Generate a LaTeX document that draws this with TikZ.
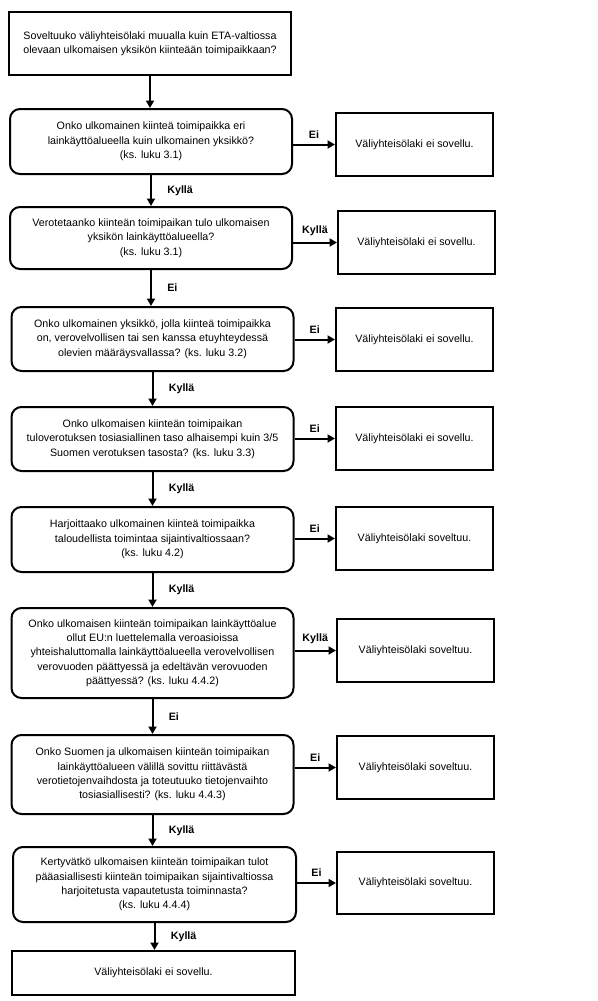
\documentclass[tikz,border=0pt]{standalone}
\usepackage{fontspec}
\setmainfont{Liberation Sans}
\usetikzlibrary{arrows.meta}

\begin{document}
\begin{tikzpicture}[x=1pt,y=-1pt,
        teksti/.style={font=\fontsize{10.7}{14.3}\selectfont, align=center},
        kysymys/.style={teksti, draw, line width=2pt, rounded corners=10pt, minimum width=282pt, inner sep=2pt},
        tulos/.style={teksti, draw, line width=2pt, minimum width=157pt, minimum height=63pt},
        nuoli/.style={line width=2pt, -{Triangle[length=7.5pt,width=8pt]}},
        vast/.style={font=\fontsize{10.7}{13}\selectfont\bfseries}]
        \useasboundingbox (0,0) rectangle (597,1001);

        \node[teksti, draw, line width=2pt, minimum width=282pt, minimum height=63pt] (q1) at (150,43.5)
            {Soveltuuko väliyhteisölaki muualla kuin ETA-valtiossa\\olevaan ulkomaisen yksikön kiinteään toimipaikkaan?};

        \node[kysymys, minimum height=65pt] (q2) at (151,141.5)
            {Onko ulkomainen kiinteä toimipaikka eri\\lainkäyttöalueella kuin ulkomainen yksikkö?\\(ks. luku 3.1)};
        \node[tulos] (a2) at (414.5,144.5) {Väliyhteisölaki ei sovellu.};

        \node[kysymys, minimum height=62pt] (q3) at (151,238)
            {Verotetaanko kiinteän toimipaikan tulo ulkomaisen\\yksikön lainkäyttöalueella?\\(ks. luku 3.1)};
        \node[tulos] (a3) at (416.5,242.5) {Väliyhteisölaki ei sovellu.};

        \node[kysymys, minimum height=64pt] (q4) at (152.5,339)
            {Onko ulkomainen yksikkö, jolla kiinteä toimipaikka\\on, verovelvollisen tai sen kanssa etuyhteydessä\\olevien määräysvallassa? (ks. luku 3.2)};
        \node[tulos] (a4) at (414.5,339.5) {Väliyhteisölaki ei sovellu.};

        \node[kysymys, minimum height=64pt] (q5) at (152.5,439)
            {Onko ulkomaisen kiinteän toimipaikan\\tuloverotuksen tosiasiallinen taso alhaisempi kuin 3/5\\Suomen verotuksen tasosta? (ks. luku 3.3)};
        \node[tulos] (a5) at (414.5,438.5) {Väliyhteisölaki ei sovellu.};

        \node[kysymys, minimum height=65pt] (q6) at (152.5,539.5)
            {Harjoittaako ulkomainen kiinteä toimipaikka\\taloudellista toimintaa sijaintivaltiossaan?\\(ks. luku 4.2)};
        \node[tulos] (a6) at (414.5,538.5) {Väliyhteisölaki soveltuu.};

        \node[kysymys, minimum height=90pt] (q7) at (152.5,653)
            {Onko ulkomaisen kiinteän toimipaikan lainkäyttöalue\\ollut EU:n luettelemalla veroasioissa\\yhteishaluttomalla lainkäyttöalueella verovelvollisen\\verovuoden päättyessä ja edeltävän verovuoden\\päättyessä? (ks. luku 4.4.2)};
        \node[tulos] (a7) at (415.5,650.5) {Väliyhteisölaki soveltuu.};

        \node[kysymys, minimum height=79pt] (q8) at (152.5,774.5)
            {Onko Suomen ja ulkomaisen kiinteän toimipaikan\\lainkäyttöalueen välillä sovittu riittävästä\\verotietojenvaihdosta ja toteutuuko tietojenvaihto\\tosiasiallisesti? (ks. luku 4.4.3)};
        \node[tulos] (a8) at (415.5,767.5) {Väliyhteisölaki soveltuu.};

        \node[kysymys, minimum width=283pt, minimum height=75pt] (q9) at (154.5,884.5)
            {Kertyvätkö ulkomaisen kiinteän toimipaikan tulot\\pääasiallisesti kiinteän toimipaikan sijaintivaltiossa\\harjoitetusta vapautetusta toiminnasta?\\(ks. luku 4.4.4)};
        \node[tulos, minimum height=62pt] (a9) at (415.5,883) {Väliyhteisölaki soveltuu.};

        \node[teksti, draw, line width=2pt, minimum width=283pt, minimum height=44pt] (e10) at (153.5,973)
            {Väliyhteisölaki ei sovellu.};

        % Alaspäin
        \draw[nuoli] (q1.south) -- (q1.south |- q2.north);
        \draw[nuoli] (q2.south) -- (q2.south |- q3.north) node[vast, midway, right=12pt]{Kyllä};
        \draw[nuoli] (q3.south) -- (q3.south |- q4.north) node[vast, midway, right=12pt]{Ei};
        \draw[nuoli] (q4.south) -- (q4.south |- q5.north) node[vast, midway, right=12pt]{Kyllä};
        \draw[nuoli] (q5.south) -- (q5.south |- q6.north) node[vast, midway, right=12pt]{Kyllä};
        \draw[nuoli] (q6.south) -- (q6.south |- q7.north) node[vast, midway, right=12pt]{Kyllä};
        \draw[nuoli] (q7.south) -- (q7.south |- q8.north) node[vast, midway, right=12pt]{Ei};
        \draw[nuoli] (q8.south) -- (q8.south |- q9.north) node[vast, midway, right=12pt]{Kyllä};
        \draw[nuoli] (q9.south) -- (q9.south |- e10.north) node[vast, midway, right=12pt]{Kyllä};

        % Oikealle
        \draw[nuoli] (a2.west -| q2.east) -- (a2.west) node[vast, midway, above=2pt]{Ei};
        \draw[nuoli] (a3.west -| q3.east) -- (a3.west) node[vast, midway, above=2pt]{Kyllä};
        \draw[nuoli] (a4.west -| q4.east) -- (a4.west) node[vast, midway, above=2pt]{Ei};
        \draw[nuoli] (a5.west -| q5.east) -- (a5.west) node[vast, midway, above=2pt]{Ei};
        \draw[nuoli] (a6.west -| q6.east) -- (a6.west) node[vast, midway, above=2pt]{Ei};
        \draw[nuoli] (a7.west -| q7.east) -- (a7.west) node[vast, midway, above=2pt]{Kyllä};
        \draw[nuoli] (a8.west -| q8.east) -- (a8.west) node[vast, midway, above=2pt]{Ei};
        \draw[nuoli] (a9.west -| q9.east) -- (a9.west) node[vast, midway, above=2pt]{Ei};
    \end{tikzpicture}
\end{document}
